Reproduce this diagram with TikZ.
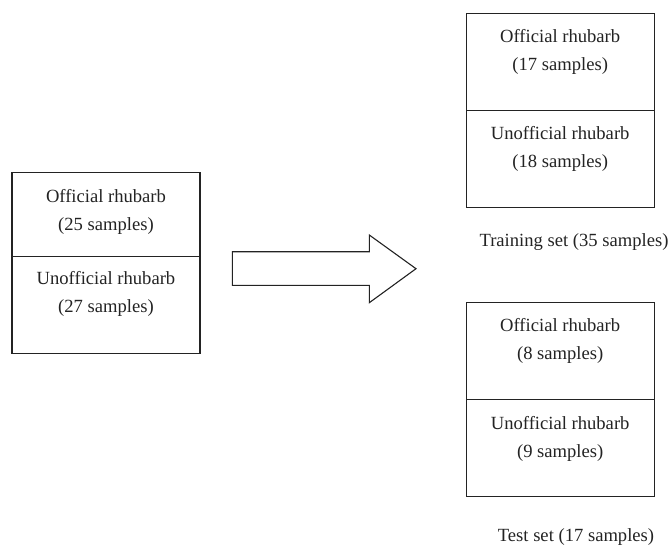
\documentclass[tikz,border=0pt]{standalone}
\usepackage{fontspec}
\setmainfont{Liberation Serif}
\definecolor{ink}{RGB}{35,35,35}
\begin{document}
\begin{tikzpicture}[x=1pt,y=-1pt,
  half/.style={draw=ink,line width=1.1pt,inner sep=0pt},
  lbl/.style={text=ink,align=center,inner sep=0pt,font=\fontsize{18.6}{28}\selectfont},
  setcaption/.style={text=ink,inner sep=0pt,font=\fontsize{18.6}{28}\selectfont}]
\useasboundingbox (0,0) rectangle (672,547);
% left box
\node[half,minimum width=188pt,minimum height=84.4pt] (Ltop) at (106,214.5) {};
\node[half,minimum width=188pt,minimum height=96.6pt] (Lbot) at (106,305) {};
\node[lbl] (Lt) at (106,211.7) {Official rhubarb\\(25 samples)};
\node[lbl] (Lb) at (106,294) {Unofficial rhubarb\\(27 samples)};
% arrow
\draw[ink,line width=1.1pt,fill=white] (232.3,251.7) -- (369.3,251.7) -- (369.3,235) -- (416,268.7)
  -- (369.3,302.7) -- (369.3,285.3) -- (232.3,285.3) -- cycle;
% training box
\node[half,minimum width=188.3pt,minimum height=97pt] (Ttop) at (560.2,61.8) {};
\node[half,minimum width=188.3pt,minimum height=97.4pt] (Tbot) at (560.2,159) {};
\node[lbl] (Tt) at (560.2,52.2) {Official rhubarb\\(17 samples)};
\node[lbl] (Tb) at (560.2,149.2) {Unofficial rhubarb\\(18 samples)};
\node[setcaption] (Tcap) at (574,241.7) {Training set (35 samples)};
% test box
\node[half,minimum width=188.3pt,minimum height=97pt] (Stop) at (560.2,350.8) {};
\node[half,minimum width=188.3pt,minimum height=97.4pt] (Sbot) at (560.2,448) {};
\node[lbl] (St) at (560.2,341) {Official rhubarb\\(8 samples)};
\node[lbl] (Sb) at (560.2,438.8) {Unofficial rhubarb\\(9 samples)};
\node[setcaption] (Scap) at (576,536.7) {Test set (17 samples)};
\end{tikzpicture}
\end{document}
